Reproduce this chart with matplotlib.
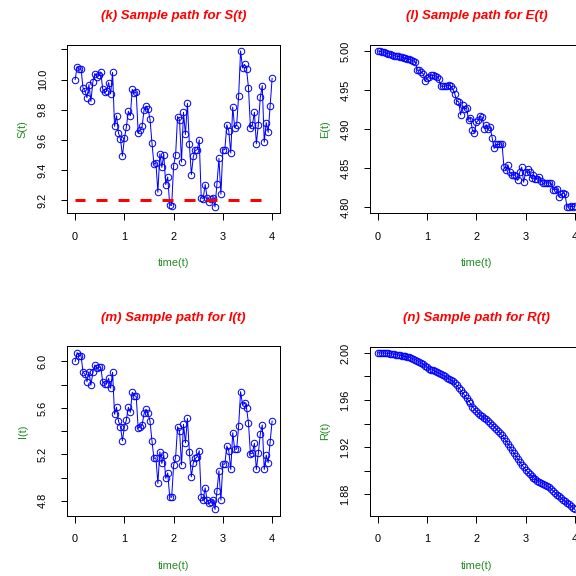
import numpy as np
import matplotlib
matplotlib.use("Agg")
import matplotlib.pyplot as plt

# time grid of the simulated sample paths
time = np.round(np.linspace(0, 4, 101), 2)

s_path = [
    10.00, 10.085, 10.07, 10.07, 9.944, 9.926, 9.88, 9.966, 9.856, 9.985,
    10.04, 10.02, 10.03, 10.05, 9.935, 9.915, 9.925, 9.98, 9.905, 10.048,
    9.69, 9.76, 9.645, 9.607, 9.493, 9.61, 9.685, 9.79, 9.76, 9.935,
    9.91, 9.915, 9.645, 9.665, 9.69, 9.80, 9.825, 9.805, 9.737, 9.58,
    9.438, 9.45, 9.253, 9.508, 9.418, 9.50, 9.304, 9.354, 9.17, 9.165,
    9.43, 9.50, 9.755, 9.733, 9.453, 9.783, 9.636, 9.843, 9.57, 9.37,
    9.49, 9.53, 9.535, 9.60, 9.218, 9.21, 9.304, 9.218, 9.19, 9.205,
    9.218, 9.156, 9.31, 9.477, 9.24, 9.535, 9.535, 9.70, 9.658, 9.513,
    9.817, 9.68, 9.70, 9.891, 10.19, 10.076, 10.10, 10.07, 9.946, 9.682,
    9.70, 9.783, 9.574, 9.70, 9.882, 9.96, 9.585, 9.715, 9.65, 9.827,
    10.008,
]
s_threshold = 9.2

e_path = [
    5.000, 4.9993, 4.9988, 4.998, 4.997, 4.9965, 4.996, 4.995, 4.994, 4.9933,
    4.993, 4.9925, 4.992, 4.9912, 4.9905, 4.990, 4.989, 4.988, 4.987, 4.986,
    4.975, 4.9755, 4.9727, 4.9705, 4.961, 4.9654, 4.967, 4.969, 4.9685, 4.968,
    4.967, 4.964, 4.9547, 4.9547, 4.9547, 4.9555, 4.956, 4.9547, 4.951, 4.9453,
    4.9355, 4.935, 4.918, 4.930, 4.925, 4.927, 4.912, 4.914, 4.898, 4.895,
    4.9085, 4.911, 4.916, 4.915, 4.900, 4.9055, 4.900, 4.902, 4.8885, 4.875,
    4.880, 4.880, 4.8805, 4.881, 4.851, 4.847, 4.854, 4.8444, 4.8414, 4.8414,
    4.839, 4.834, 4.8444, 4.851, 4.8316, 4.8444, 4.848, 4.8444, 4.837, 4.8414,
    4.836, 4.836, 4.8385, 4.833, 4.830, 4.8308, 4.8308, 4.8308, 4.830, 4.8222,
    4.822, 4.823, 4.8128, 4.816, 4.818, 4.816, 4.800, 4.800, 4.8005, 4.8003,
    4.801,
]

i_path = [
    6.00, 6.076, 6.05, 6.05, 5.907, 5.89, 5.826, 5.912, 5.795, 5.907,
    5.97, 5.94, 5.95, 5.95, 5.826, 5.806, 5.81, 5.855, 5.769, 5.907,
    5.545, 5.605, 5.487, 5.438, 5.317, 5.438, 5.496, 5.605, 5.562, 5.735,
    5.705, 5.70, 5.424, 5.438, 5.453, 5.553, 5.588, 5.553, 5.487, 5.315,
    5.165, 5.17, 4.95, 5.222, 5.122, 5.194, 4.993, 5.04, 4.835, 4.83,
    5.108, 5.17, 5.438, 5.403, 5.108, 5.459, 5.30, 5.51, 5.222, 5.007,
    5.128, 5.165, 5.18, 5.231, 4.83, 4.806, 4.912, 4.806, 4.777, 4.79,
    4.806, 4.726, 4.886, 5.059, 4.806, 5.116, 5.116, 5.272, 5.23, 5.07,
    5.386, 5.245, 5.245, 5.444, 5.74, 5.625, 5.645, 5.60, 5.47, 5.203,
    5.21, 5.295, 5.07, 5.21, 5.375, 5.453, 5.07, 5.194, 5.128, 5.309,
    5.487,
]

r_path = [
    2.0000, 2.0000, 1.9999, 1.9999, 1.9998, 1.9996, 1.9994, 1.9992, 1.9989, 1.9986,
    1.9983, 1.9980, 1.9977, 1.9974, 1.9970, 1.9966, 1.9961, 1.9955, 1.9948, 1.9941,
    1.9933, 1.9924, 1.9914, 1.9904, 1.9893, 1.9878, 1.9866, 1.9858, 1.9851, 1.9844,
    1.9837, 1.9829, 1.9820, 1.9810, 1.9800, 1.9790, 1.9780, 1.9770, 1.9758, 1.9742,
    1.9724, 1.9705, 1.9684, 1.9663, 1.9641, 1.9618, 1.9595, 1.9571, 1.9545, 1.9523,
    1.9505, 1.9488, 1.9473, 1.9461, 1.9449, 1.9436, 1.9422, 1.9407, 1.9391, 1.9374,
    1.9357, 1.9339, 1.9320, 1.9300, 1.9278, 1.9254, 1.9229, 1.9204, 1.9178, 1.9152,
    1.9126, 1.9101, 1.9076, 1.9052, 1.9030, 1.9010, 1.8991, 1.8973, 1.8957, 1.8942,
    1.8928, 1.8917, 1.8907, 1.8898, 1.8890, 1.8881, 1.8871, 1.8859, 1.8845, 1.8830,
    1.8814, 1.8798, 1.8783, 1.8768, 1.8754, 1.8741, 1.8728, 1.8715, 1.8702, 1.8688,
    1.8672,
]

x_ticks = [0, 1, 2, 3, 4]
s_ticks = [9.2, 9.4, 9.6, 9.8, 10.0, 10.2]
s_labels = ["9.2", "9.4", "9.6", "9.8", "10.0", ""]
e_ticks = [4.80, 4.85, 4.90, 4.95, 5.00]
e_labels = ["4.80", "4.85", "4.90", "4.95", "5.00"]
i_ticks = [4.8, 5.0, 5.2, 5.4, 5.6, 5.8, 6.0]
i_labels = ["4.8", "", "5.2", "", "5.6", "", "6.0"]
r_ticks = [1.88, 1.90, 1.92, 1.94, 1.96, 1.98, 2.00]
r_labels = ["1.88", "", "1.92", "", "1.96", "", "2.00"]

plt.rcParams["font.family"] = ["Liberation Sans", "DejaVu Sans"]
plt.rcParams["lines.scale_dashes"] = False

fig = plt.figure(figsize=(8, 8), dpi=72)

panels = [
    ([0.1168, 0.630, 0.3693, 0.2925], s_path, "(k) Sample path for S(t)", "S(t)", s_ticks, s_labels),
    ([0.6424, 0.630, 0.3693, 0.2925], e_path, "(l) Sample path for E(t)", "E(t)", e_ticks, e_labels),
    ([0.1168, 0.1047, 0.3693, 0.2940], i_path, "(m) Sample path for I(t)", "I(t)", i_ticks, i_labels),
    ([0.6424, 0.1047, 0.3693, 0.2935], r_path, "(n) Sample path for R(t)", "R(t)", r_ticks, r_labels),
]

for rect, values, title, ylabel, yt, ylab in panels:
    ax = fig.add_axes(rect)
    ax.plot(time, values, color="blue", lw=1.0, marker="o", mfc="none",
            mec="blue", ms=6.5, mew=1.0)
    ax.margins(x=0.04, y=0.04)
    if ylabel == "S(t)":
        ax.hlines(s_threshold, time[0], time[-1], colors="red", lw=3,
                  linestyles=(1, (11, 11)), zorder=5)
    ax.set_xticks(x_ticks)
    ax.set_xticklabels([str(t) for t in x_ticks], fontsize=11)
    ax.set_yticks(yt)
    ax.set_yticklabels(ylab, fontsize=11, rotation=90, va="center")
    ax.tick_params(length=6.5, width=1, colors="black")
    ax.tick_params(axis="x", pad=12)
    ax.tick_params(axis="y", pad=13)
    for sp in ax.spines.values():
        sp.set_linewidth(1)
    ax.set_xlabel("time(t)", fontsize=11, color="forestgreen", va="center")
    ax.xaxis.set_label_coords(0.5, -0.297)
    ax.set_ylabel(ylabel, fontsize=11, color="forestgreen", va="center")
    ax.yaxis.set_label_coords(-0.21, 0.5)
    ax.text(0.5, 1 + 28.5 / 168.5, title, transform=ax.transAxes, ha="center",
            va="center", fontsize=13.2, color="red", fontweight="bold",
            fontstyle="italic")

fig.savefig("out.png", dpi=72)
plt.close(fig)
